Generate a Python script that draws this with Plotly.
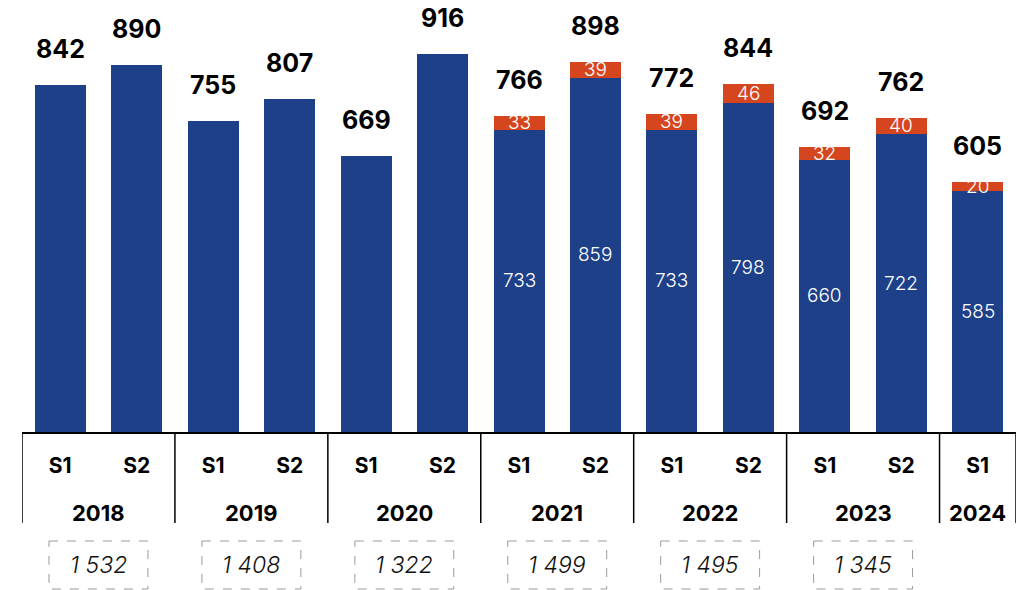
import plotly.graph_objects as go

years = ["2018", "2019", "2020", "2021", "2022", "2023", "2024"]
halves = ["S1", "S2", "S1", "S2", "S1", "S2", "S1", "S2", "S1", "S2", "S1", "S2", "S1"]
blue_vals = [842, 890, 755, 807, 669, 916, 733, 859, 733, 798, 660, 722, 585]
orange_vals = [None, None, None, None, None, None, 33, 39, 39, 46, 32, 40, 20]
totals = [842, 890, 755, 807, 669, 916, 766, 898, 772, 844, 692, 762, 605]
annual_totals = ["1 532", "1 408", "1 322", "1 499", "1 495", "1 345"]
year_index = [[0, 1], [2, 3], [4, 5], [6, 7], [8, 9], [10, 11], [12]]
split_from = 6  # index from which the bars are split in two

BLUE = "#1E4088"
ORANGE = "#D5461E"
FONT = "Inter"

x = list(range(len(halves)))

fig = go.Figure()
fig.add_trace(go.Bar(x=x, y=blue_vals, marker_color=BLUE, width=0.667,
                     marker_line_width=0, hoverinfo="skip"))
fig.add_trace(go.Bar(x=x, y=orange_vals, marker_color=ORANGE, width=0.667,
                     marker_line_width=0, hoverinfo="skip"))

ann = []
for i in x:
    ann.append(dict(x=i, y=totals[i], xref="x", yref="y", text=str(totals[i]),
                    showarrow=False, yanchor="middle", yshift=36, borderpad=0,
                    font=dict(family=FONT, size=25, color="black", weight=700)))
    if i >= split_from:
        ann.append(dict(x=i, y=blue_vals[i] / 2, xref="x", yref="y", text=str(blue_vals[i]),
                        showarrow=False, yanchor="middle",
                        font=dict(family=FONT, size=19, color="white", weight=300)))
        ann.append(dict(x=i, y=blue_vals[i] + orange_vals[i] / 2, xref="x", yref="y",
                        text=str(orange_vals[i]), showarrow=False, yanchor="middle",
                        font=dict(family=FONT, size=19, color="white", weight=300)))

shapes = []
seps = [-0.5] + [g[-1] + 0.5 for g in year_index]
for s in seps:
    shapes.append(dict(type="line", xref="x", yref="paper", x0=s, x1=s,
                       ysizemode="pixel", yanchor=0, y0=0, y1=-91,
                       line=dict(color="black", width=1.5)))

for k, g in enumerate(year_index):
    cx = sum(g) / len(g)
    ann.append(dict(x=cx, y=0, xref="x", yref="paper", text=years[k], showarrow=False,
                    yanchor="middle", yshift=-81,
                    font=dict(family=FONT, size=22, color="black", weight=700)))
    if k < len(annual_totals):
        shapes.append(dict(type="rect", xref="x", yref="paper", x0=cx - 0.647, x1=cx + 0.647,
                           ysizemode="pixel", yanchor=0, y0=-109, y1=-157,
                           line=dict(color="#9a9a9a", width=1, dash="dash")))
        ann.append(dict(x=cx, y=0, xref="x", yref="paper", text=annual_totals[k],
                        showarrow=False, yanchor="middle", yshift=-133,
                        font=dict(family=FONT, size=23, color="#111111", style="italic",
                                  weight=300)))

fig.update_layout(
    width=1018, height=582,
    margin=dict(l=14, r=10, t=0, b=158),
    barmode="stack",
    showlegend=False,
    plot_bgcolor="white", paper_bgcolor="white",
    annotations=ann, shapes=shapes,
    xaxis=dict(range=[-0.5, 12.5], tickvals=x, ticktext=halves, showgrid=False,
               zeroline=False, showline=True, linecolor="black", linewidth=2,
               ticks="", ticklabelstandoff=14,
               tickfont=dict(family=FONT, size=21, color="black", weight=700)),
    yaxis=dict(range=[0, 1028], visible=False, showgrid=False, zeroline=False),
)

fig.write_html("out.html")
